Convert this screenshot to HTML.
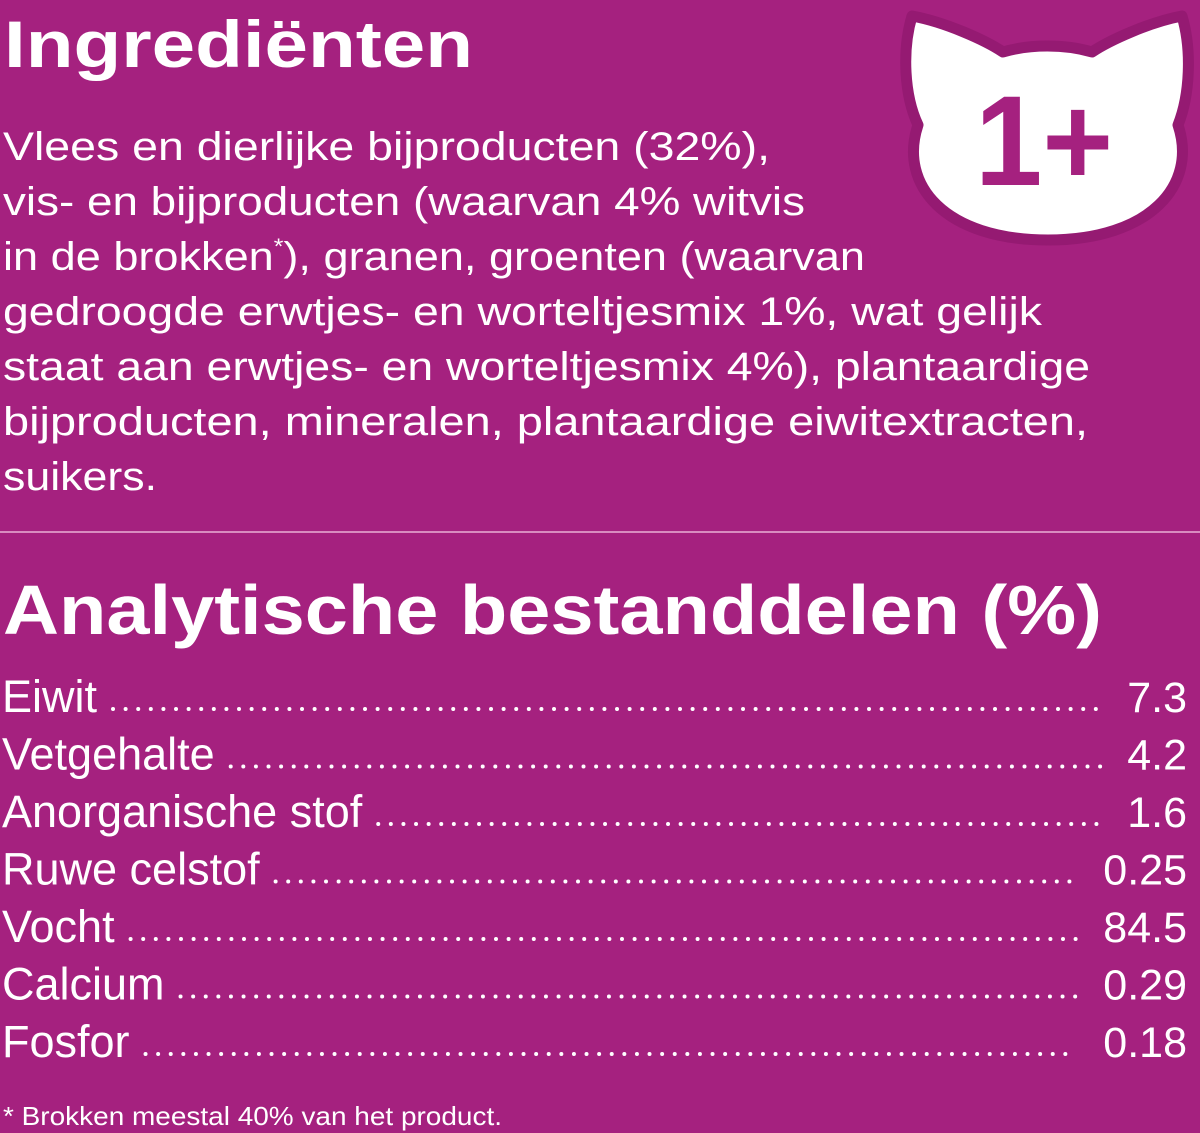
<!DOCTYPE html>
<html><head><meta charset="utf-8"><style>
html,body{margin:0;padding:0;background:#a5217f;}
svg{display:block}
text{font-family:"Liberation Sans",sans-serif;fill:#fff}
</style></head><body>
<svg width="1200" height="1133" viewBox="0 0 1200 1133">
<rect width="1200" height="1133" fill="#a5217f"/>
<text x="4" y="67" font-size="66" font-weight="bold" textLength="469" lengthAdjust="spacingAndGlyphs">Ingrediënten</text>
<g font-size="40">
<text x="3" y="160" textLength="767" lengthAdjust="spacingAndGlyphs">Vlees en dierlijke bijproducten (32%),</text>
<text x="3" y="215" textLength="802" lengthAdjust="spacingAndGlyphs">vis- en bijproducten (waarvan 4% witvis</text>
<text x="3" y="270" textLength="862" lengthAdjust="spacingAndGlyphs">in de brokken<tspan font-size="22" dy="-16">*</tspan><tspan dy="16">), granen, groenten (waarvan</tspan></text>
<text x="3" y="325" textLength="1039" lengthAdjust="spacingAndGlyphs">gedroogde erwtjes- en worteltjesmix 1%, wat gelijk</text>
<text x="3" y="380" textLength="1087" lengthAdjust="spacingAndGlyphs">staat aan erwtjes- en worteltjesmix 4%), plantaardige</text>
<text x="3" y="435" textLength="1085" lengthAdjust="spacingAndGlyphs">bijproducten, mineralen, plantaardige eiwitextracten,</text>
<text x="3" y="490" textLength="154" lengthAdjust="spacingAndGlyphs">suikers.</text>
</g>
<line x1="0" y1="532" x2="1200" y2="532" stroke="#d88cc0" stroke-width="2"/>
<text x="3" y="634" font-size="70" font-weight="bold" textLength="1099" lengthAdjust="spacingAndGlyphs">Analytische bestanddelen (%)</text>
<g id="rows"></g>
<text x="3" y="1125" font-size="26" textLength="499" lengthAdjust="spacingAndGlyphs">* Brokken meestal 40% van het product.</text>
<g>
<path d="M912,16 C945,22 985,40 1003,52 C1030,44 1065,44 1092,52 C1110,40 1150,22 1182,16 C1192,50 1190,95 1178,125 C1198,185 1150,240 1048,240 C945,240 898,185 918,125 C904,95 902,50 912,16 Z" fill="#fff" stroke="#951a72" stroke-width="11" stroke-linejoin="round"/>
<text x="975" y="185" font-size="128" font-weight="bold" style="fill:#a5217f" textLength="138" lengthAdjust="spacingAndGlyphs">1+</text>
</g>
</svg>
<script>
const labels=["Eiwit","Vetgehalte","Anorganische stof","Ruwe celstof","Vocht","Calcium","Fosfor"];
const values=["7.3","4.2","1.6","0.25","84.5","0.29","0.18"];
const g=document.getElementById('rows');
const NS="http://www.w3.org/2000/svg";
labels.forEach((l,i)=>{
  const y=712+i*57.5;
  const t=document.createElementNS(NS,'text');
  
  
  t.setAttribute('x',2);t.setAttribute('y',y);t.setAttribute('font-size','45');
  t.textContent=l;g.appendChild(t);
  const w=t.getComputedTextLength();
  const v=document.createElementNS(NS,'text');
  
  
  v.setAttribute('x',1187);v.setAttribute('y',y);v.setAttribute('font-size','43');
  v.setAttribute('text-anchor','end');v.textContent=values[i];g.appendChild(v);
  const vw=v.getComputedTextLength();
  const ln=document.createElementNS(NS,'line');
  
  
  ln.setAttribute('x1',2+w+16);ln.setAttribute('x2',1187-vw-26);
  ln.setAttribute('y1',y-3);ln.setAttribute('y2',y-3);
  ln.setAttribute('stroke','#fff');ln.setAttribute('stroke-width','4');
  ln.setAttribute('stroke-linecap','round');ln.setAttribute('stroke-dasharray','0 12.6');
  g.appendChild(ln);
});
</script>
</body></html>
